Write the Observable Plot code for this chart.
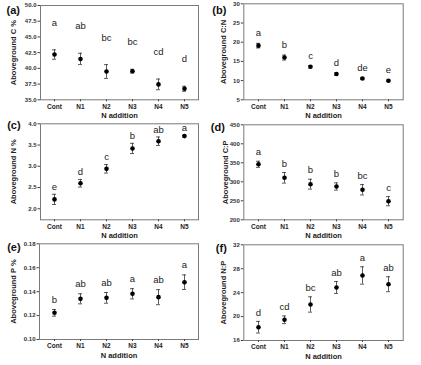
<!DOCTYPE html>
<html>
<head>
<meta charset="utf-8">
<script src="https://cdn.jsdelivr.net/npm/d3@7"></script>
<script src="https://cdn.jsdelivr.net/npm/@observablehq/plot@0.6"></script>
<style>
  html, body { margin: 0; padding: 0; background: #fff; }
  #wrap { position: relative; width: 421px; height: 365px; overflow: hidden; font-family: "Liberation Sans", Arial, sans-serif; }
  #wrap > div, #wrap > svg { position: absolute; }
</style>
</head>
<body>
<div id="wrap"></div>
<script>
const groups = ["Cont", "N1", "N2", "N3", "N4", "N5"];

// (a) Aboveground C %
const cMean = [42.2, 41.5, 39.5, 39.55, 37.45, 36.75];
const cSE = [0.75, 0.9, 1.1, 0.3, 0.85, 0.4];
const cLetters = ["a", "ab", "bc", "bc", "cd", "d"];
const cTicks = [35, 37.5, 40, 42.5, 45, 47.5, 50];

// (b) Aboveground C:N
const cnMean = [19.1, 16.0, 13.6, 11.7, 10.55, 9.95];
const cnSE = [0.6, 0.65, 0.3, 0.3, 0.25, 0.2];
const cnLetters = ["a", "b", "c", "d", "de", "e"];
const cnTicks = [5, 10, 15, 20, 25, 30];

// (c) Aboveground N %
const nMean = [2.22, 2.60, 2.94, 3.42, 3.59, 3.71];
const nSE = [0.12, 0.09, 0.1, 0.12, 0.1, 0.02];
const nLetters = ["e", "d", "c", "b", "ab", "a"];
const nTicks = [2.0, 2.5, 3.0, 3.5, 4.0];

// (d) Aboveground C:P
const cpMean = [346, 310.5, 293.7, 287.6, 279, 249];
const cpSE = [8, 14, 13, 9.6, 13.7, 12];
const cpLetters = ["a", "b", "b", "b", "bc", "c"];
const cpTicks = [200, 250, 300, 350, 400, 450];

// (e) Aboveground P %
const pMean = [0.1223, 0.134, 0.1348, 0.1382, 0.1354, 0.1479];
const pSE = [0.0028, 0.0042, 0.0045, 0.0043, 0.0063, 0.0061];
const pLetters = ["b", "ab", "ab", "a", "ab", "a"];
const pTicks = [0.10, 0.12, 0.14, 0.16, 0.18];

// (f) Aboveground N:P
const npMean = [18.22, 19.46, 22.02, 24.86, 26.87, 25.41];
const npSE = [0.97, 0.64, 1.28, 1.0, 1.45, 1.25];
const npLetters = ["d", "cd", "bc", "ab", "a", "ab"];
const npTicks = [16, 20, 24, 28, 32];

const xLabel = "N addition";

function rows(mean, se, letters) {
  return groups.map((g, i) => ({g, m: mean[i], lo: mean[i] - se[i], hi: mean[i] + se[i], L: letters[i]}));
}

const FONT = "Liberation Sans, Arial, sans-serif";

function panel(c) {
  const data = rows(c.mean, c.se, c.letters);
  const plot = Plot.plot({
    width: c.w, height: c.h,
    marginLeft: c.ml, marginRight: c.mr, marginTop: c.mt, marginBottom: c.mb,
    style: {fontFamily: FONT, background: "transparent", overflow: "visible"},
    x: {type: "band", domain: groups, paddingInner: 0.86, paddingOuter: 0.43},
    y: {domain: c.domain},
    marks: [
      Plot.frame({stroke: "#7a7a7a", strokeWidth: 1}),
      Plot.axisY({ticks: c.ticks, tickFormat: c.fmt, tickSize: 2.5, tickPadding: 1.5,
        fontSize: 6, fontWeight: "bold", fill: "#333", stroke: "#444", label: null}),
      Plot.axisX({tickSize: 2, tickPadding: 2.2, fontSize: 6.5, fontWeight: "bold",
        fill: "#222", stroke: "#444", label: null}),
      Plot.ruleX(data, {x: "g", y1: "lo", y2: "hi", stroke: "#333", strokeWidth: 0.8}),
      Plot.tickY(data, {x: "g", y: "lo", stroke: "#333", strokeWidth: 0.8}),
      Plot.tickY(data, {x: "g", y: "hi", stroke: "#333", strokeWidth: 0.8}),
      Plot.dot(data, {x: "g", y: "m", r: 2.3, fill: "#000", stroke: "none"}),
      Plot.text(data, {x: "g", y: "hi", text: "L", dy: -c.ld, fontSize: 9.5, fill: "#222"}),
      Plot.text([c.ylabel], {frameAnchor: "left", textAnchor: "middle", lineAnchor: "middle", rotate: -90, dx: c.ydx, fontSize: 7.5, fontWeight: "bold", fill: "#222"}),
      Plot.text([xLabel], {frameAnchor: "bottom", lineAnchor: "middle", dy: c.xdy, fontSize: 7.5, fontWeight: "bold", fill: "#222"}),
      Plot.text([c.tag], {frameAnchor: "top-left", dx: c.tdx, dy: c.tdy, textAnchor: "start", lineAnchor: "middle", fontSize: 11, fontWeight: "bold", fill: "#111"})
    ]
  });
  plot.style.left = c.left + "px";
  plot.style.top = c.top + "px";
  document.getElementById("wrap").appendChild(plot);
}

const f1 = d3.format(".1f"), f0 = d3.format("d"), f2 = d3.format(".2f");

panel({tag: "(a)", ylabel: "Aboveground C %", mean: cMean, se: cSE, letters: cLetters,
  ticks: cTicks, fmt: f1, domain: [35, 50], left: 0, top: 0, w: 210, h: 120,
  ml: 40, mr: 12, mt: 5, mb: 20.7, ld: 27, ydx: -27, xdy: 15.7, tdx: -34, tdy: 5});
panel({tag: "(b)", ylabel: "Aboveground C:N", mean: cnMean, se: cnSE, letters: cnLetters,
  ticks: cnTicks, fmt: f0, domain: [5, 30], left: 210, top: 0, w: 211, h: 120,
  ml: 33.3, mr: 18.3, mt: 3.3, mb: 20.7, ld: 10, ydx: -20, xdy: 15.7, tdx: -31.5, tdy: 6.7});
panel({tag: "(c)", ylabel: "Aboveground N %", mean: nMean, se: nSE, letters: nLetters,
  ticks: nTicks, fmt: f1, domain: [1.74, 4.0], left: 0, top: 120, w: 210, h: 120,
  ml: 40, mr: 12, mt: 3.3, mb: 20.7, ld: 7.5, ydx: -27, xdy: 15.7, tdx: -33.3, tdy: 1.7});
panel({tag: "(d)", ylabel: "Aboveground C:P", mean: cpMean, se: cpSE, letters: cpLetters,
  ticks: cpTicks, fmt: f0, domain: [200, 450], left: 210, top: 120, w: 211, h: 120,
  ml: 33.3, mr: 18.3, mt: 4.3, mb: 20.7, ld: 9, ydx: -18, xdy: 15.7, tdx: -33, tdy: 2.4});
panel({tag: "(e)", ylabel: "Aboveground P %", mean: pMean, se: pSE, letters: pLetters,
  ticks: pTicks, fmt: f2, domain: [0.10, 0.18], left: 0, top: 240, w: 210, h: 125,
  ml: 39, mr: 12, mt: 3.3, mb: 26, ld: 9.5, ydx: -26, xdy: 15.7, tdx: -32.3, tdy: 3.4});
panel({tag: "(f)", ylabel: "Aboveground N:P", mean: npMean, se: npSE, letters: npLetters,
  ticks: npTicks, fmt: f0, domain: [16, 32], left: 210, top: 240, w: 211, h: 125,
  ml: 33.3, mr: 18.3, mt: 4.3, mb: 25, ld: 8.8, ydx: -20, xdy: 15.7, tdx: -28, tdy: 3.7});
</script>
</body>
</html>
